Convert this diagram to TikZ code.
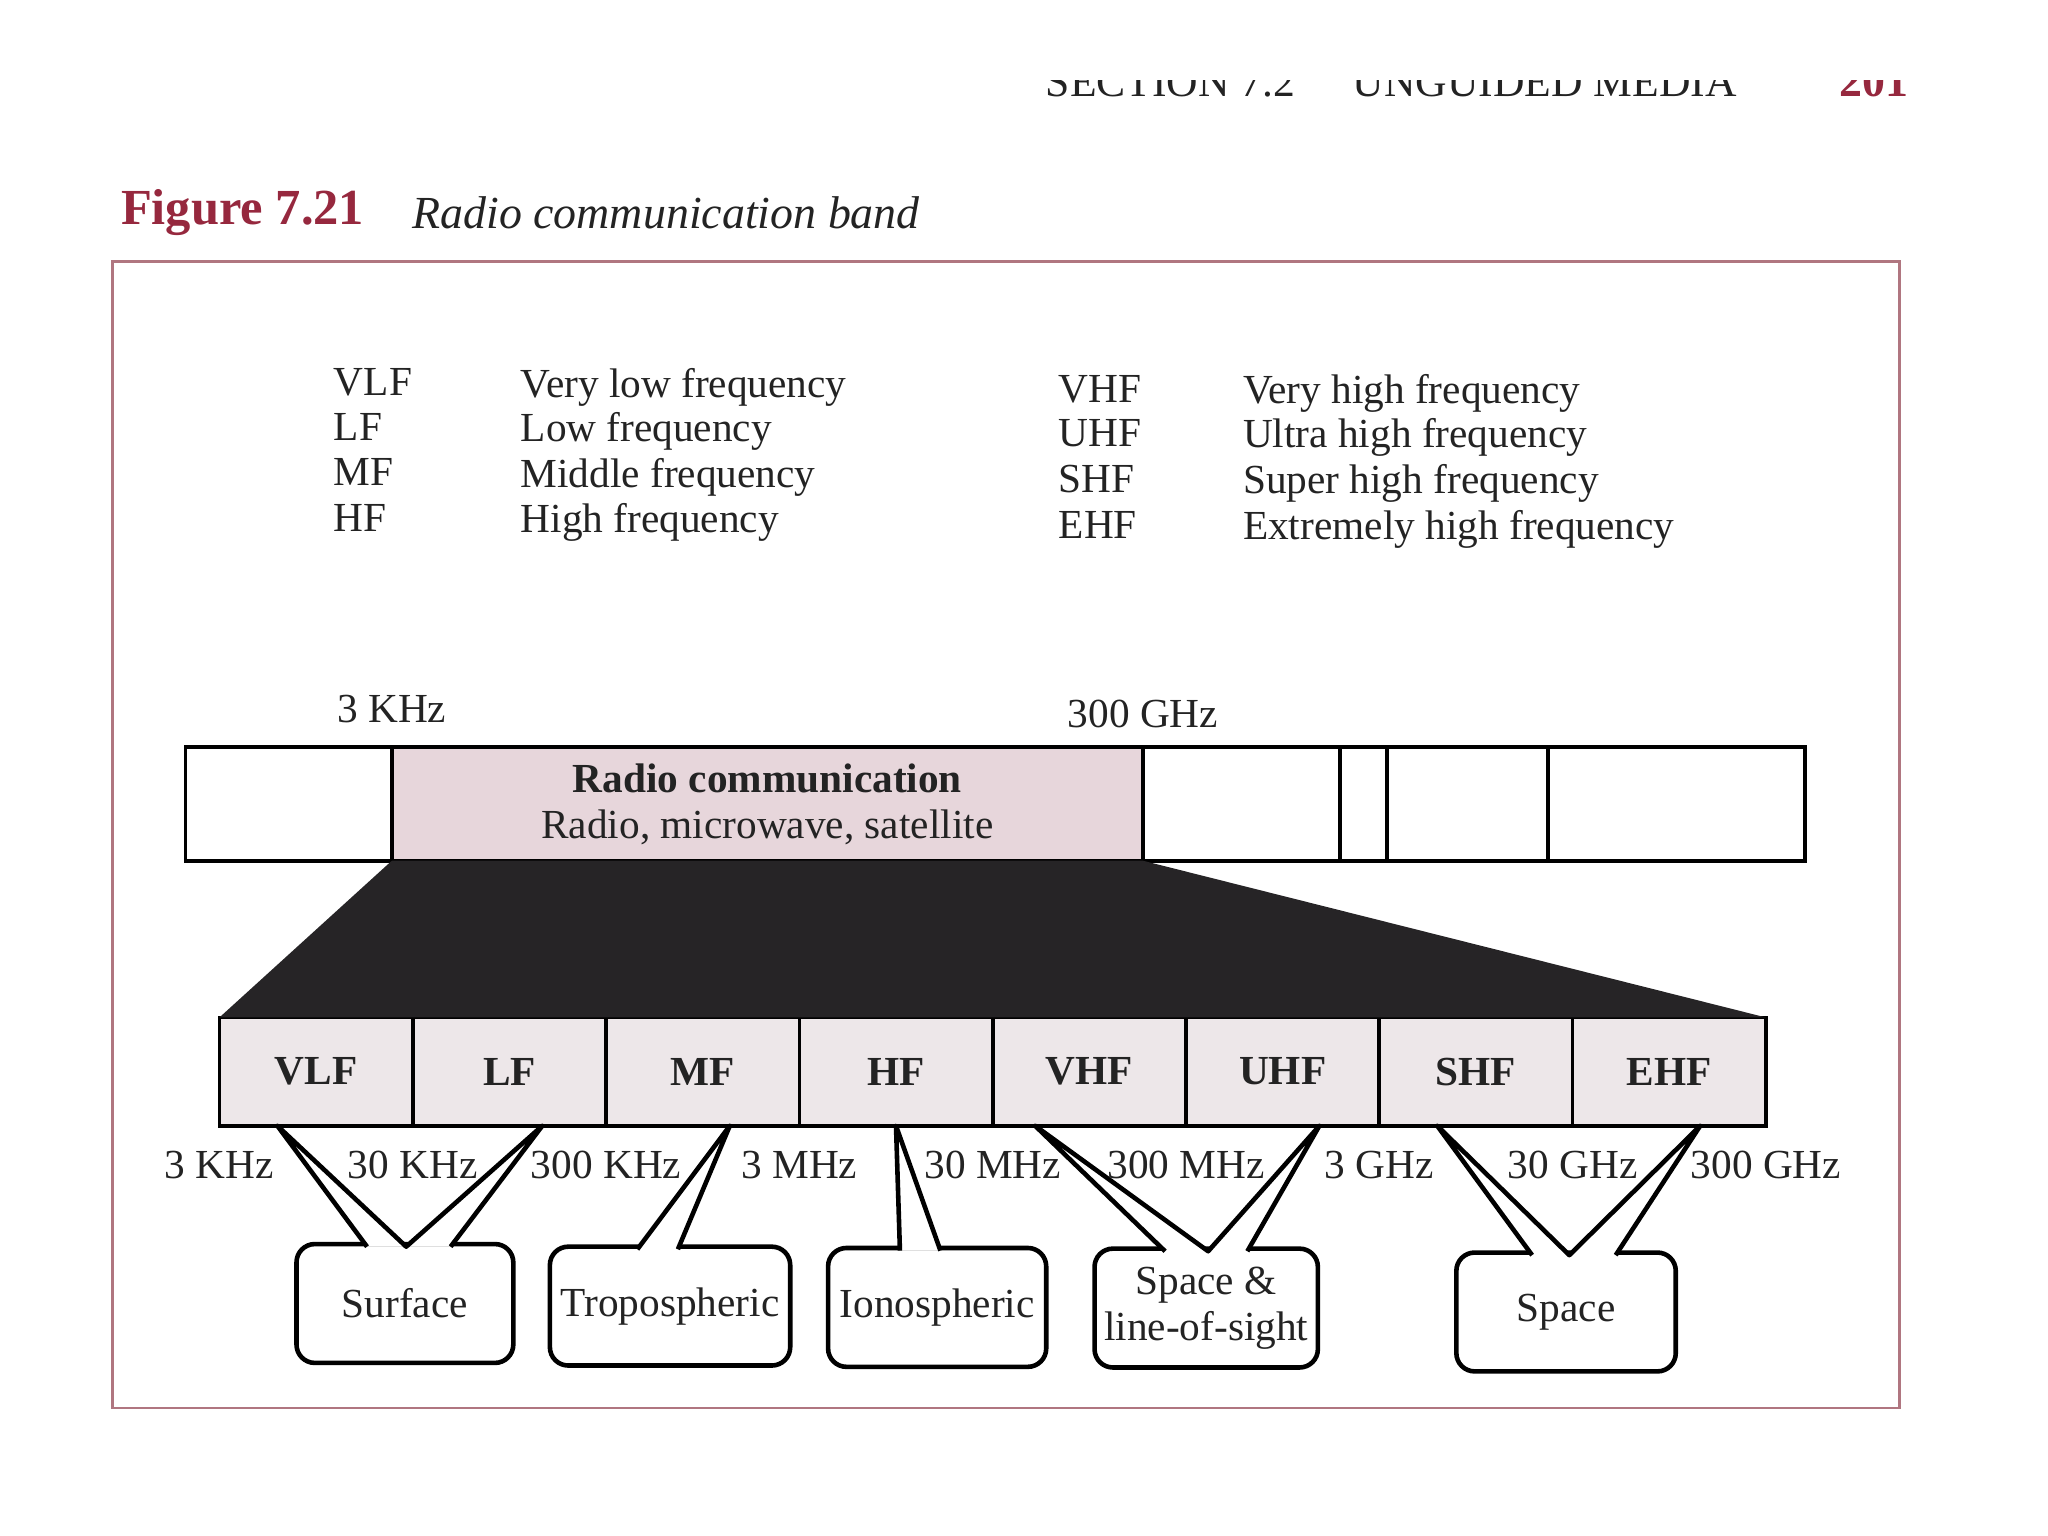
\documentclass[tikz,border=0pt]{standalone}
\usepackage{fontspec}
\setmainfont{Liberation Serif}
\usepackage{tikz}
\usetikzlibrary{positioning, calc}
\definecolor{figred}{RGB}{150,40,62}
\definecolor{framecol}{RGB}{176,118,128}
\definecolor{radiopink}{RGB}{231,214,219}
\definecolor{cellgray}{RGB}{237,231,233}
\definecolor{wedgedark}{RGB}{38,36,38}
\definecolor{inkdark}{RGB}{35,35,35}
\tikzset{
  txt/.style={font=\fontsize{9}{10}\selectfont, inner sep=0pt, color=inkdark},
  legend/.style={txt, anchor=base west},
  freq/.style={txt},
  bandline/.style={draw=black, line width=0.8pt},
  radiocell/.style={rectangle, draw=black, fill=radiopink, line width=0.8pt,
    minimum width=5.75cm, minimum height=0.87cm, outer sep=0pt,
    align=center, text=inkdark, font=\fontsize{9}{10}\selectfont},
  bandcell/.style={rectangle, draw=black, fill=cellgray, line width=0.8pt,
    minimum width=1.48cm, minimum height=0.83cm, outer sep=0pt,
    text=inkdark, font=\fontsize{9}{10}\selectfont\bfseries},
  balloon/.style={rectangle, draw=black, fill=white, line width=1pt,
    rounded corners=4pt, minimum height=0.91cm, outer sep=0pt, inner sep=1pt,
    align=center, text=inkdark, font=\fontsize{9}{10}\selectfont},
  spike/.style={draw=black, fill=white, line width=1pt, line join=round}
}

\begin{document}
\begin{tikzpicture}
  \useasboundingbox (0,0) rectangle (15.68,11.76);
  % running head, cut off at the top of the scan
  \begin{scope}
    \clip (0,0) rectangle (15.68,11.14);
    \node[legend, font=\fontsize{9.5}{10}\selectfont] (runsec) at (8.00,11.02) {SECTION 7.2};
    \node[legend, font=\fontsize{9.5}{10}\selectfont] (runtitle) at (10.35,11.02) {UNGUIDED MEDIA};
    \node[legend, font=\fontsize{10}{10}\selectfont\bfseries, color=figred] (runpage) at (14.08,11.02) {201};
  \end{scope}
  % caption and frame
  \node[anchor=base west, inner sep=0pt, color=figred,
        font=\fontsize{11}{12}\selectfont\bfseries] (fignum) at (0.92,10.04) {Figure 7.21};
  \node[anchor=base west, inner sep=0pt, color=inkdark,
        font=\fontsize{10}{12}\selectfont\itshape] (figcap) at (3.15,10.01) {Radio communication band};
  \draw[framecol, line width=0.6pt] (0.86,0.98) rectangle (14.54,9.76);
  % legend
  \node[legend] (vlfabbr) at (2.55,8.73) {VLF};
  \node[legend] (lfabbr)  at (2.55,8.39) {LF};
  \node[legend] (mfabbr)  at (2.55,8.04) {MF};
  \node[legend] (hfabbr)  at (2.55,7.69) {HF};
  \node[legend] (vlfname) at (3.98,8.72) {Very low frequency};
  \node[legend] (lfname)  at (3.98,8.38) {Low frequency};
  \node[legend] (mfname)  at (3.98,8.03) {Middle frequency};
  \node[legend] (hfname)  at (3.98,7.68) {High frequency};
  \node[legend] (vhfabbr) at (8.10,8.68) {VHF};
  \node[legend] (uhfabbr) at (8.10,8.34) {UHF};
  \node[legend] (shfabbr) at (8.10,7.99) {SHF};
  \node[legend] (ehfabbr) at (8.10,7.64) {EHF};
  \node[legend] (vhfname) at (9.51,8.67) {Very high frequency};
  \node[legend] (uhfname) at (9.51,8.33) {Ultra high frequency};
  \node[legend] (shfname) at (9.51,7.98) {Super high frequency};
  \node[legend] (ehfname) at (9.51,7.63) {Extremely high frequency};
  % whole spectrum
  \draw[bandline] (1.42,5.17) rectangle (13.82,6.04);
  \node[radiocell] (radio) at (5.875,5.605)
       {\textbf{Radio communication}\\Radio, microwave, satellite};
  \draw[bandline] (10.26,5.17) -- (10.26,6.04);
  \draw[bandline] (10.62,5.17) -- (10.62,6.04);
  \draw[bandline] (11.85,5.17) -- (11.85,6.04);
  \node[txt] (lowend)  at ([yshift=0.29cm]radio.north west) {3 KHz};
  \node[txt] (highend) at ([yshift=0.25cm]radio.north east) {300 GHz};
  % radio bands
  \node[bandcell] (vlf) at (2.42,3.555) {VLF};
  \node[bandcell, right=0pt of vlf] (lf)  {LF};
  \node[bandcell, right=0pt of lf]  (mf)  {MF};
  \node[bandcell, right=0pt of mf]  (hf)  {HF};
  \node[bandcell, right=0pt of hf]  (vhf) {VHF};
  \node[bandcell, right=0pt of vhf] (uhf) {UHF};
  \node[bandcell, right=0pt of uhf] (shf) {SHF};
  \node[bandcell, right=0pt of shf] (ehf) {EHF};
  % black zoom wedge
  \fill[wedgedark] (radio.south west) -- (radio.south east)
       -- (ehf.north east) -- (vlf.north west) -- cycle;
  % propagation balloons
  \node[balloon, minimum width=1.66cm] (surface) at (3.10,1.78) {Surface};
  \node[balloon, minimum width=1.84cm] (tropo) at (5.13,1.76) {Tropospheric};
  \node[balloon, minimum width=1.67cm] (iono) at (7.175,1.75) {Ionospheric};
  \node[balloon, minimum width=1.71cm] (los) at (9.235,1.745) {Space \&\\line-of-sight};
  \node[balloon, minimum width=1.68cm] (space) at (11.99,1.715) {Space};
  \draw[spike] ($(surface.north)+(-0.29,-0.02)$) -- ($(vlf.south west)!0.30!(vlf.south east)$)
       -- ($(surface.north)+(0.01,-0.02)$) -- ($(lf.south west)!0.67!(lf.south east)$)
       -- ($(surface.north)+(0.35,-0.02)$);
  \draw[spike] ($(tropo.north)+(-0.25,-0.02)$) -- ($(mf.south west)!0.64!(mf.south east)$)
       -- ($(tropo.north)+(0.06,-0.02)$);
  \draw[spike] ($(iono.north)+(-0.285,-0.02)$) -- ($(hf.south west)!0.50!(hf.south east)$)
       -- ($(iono.north)+(0.025,-0.02)$);
  \draw[spike] ($(los.north)+(-0.315,-0.02)$) -- ($(vhf.south west)!0.22!(vhf.south east)$)
       -- ($(los.north)+(0.015,-0.02)$) -- ($(uhf.south west)!0.69!(uhf.south east)$)
       -- ($(los.north)+(0.315,-0.02)$);
  \draw[spike] ($(space.north)+(-0.26,-0.02)$) -- ($(shf.south west)!0.30!(shf.south east)$)
       -- ($(space.north)+(0.025,-0.02)$) -- ($(ehf.south west)!0.66!(ehf.south east)$)
       -- ($(space.north)+(0.38,-0.02)$);
  % band edges
  \node[freq] (f3k)   at ([yshift=-0.30cm]vlf.south west) {3 KHz};
  \node[freq] (f30k)  at ([yshift=-0.30cm]vlf.south east) {30 KHz};
  \node[freq] (f300k) at ([yshift=-0.30cm]lf.south east)  {300 KHz};
  \node[freq] (f3m)   at ([yshift=-0.30cm]mf.south east)  {3 MHz};
  \node[freq] (f30m)  at ([yshift=-0.30cm]hf.south east)  {30 MHz};
  \node[freq] (f300m) at ([yshift=-0.30cm]vhf.south east) {300 MHz};
  \node[freq] (f3g)   at ([yshift=-0.30cm]uhf.south east) {3 GHz};
  \node[freq] (f30g)  at ([yshift=-0.30cm]shf.south east) {30 GHz};
  \node[freq] (f300g) at ([yshift=-0.30cm]ehf.south east) {300 GHz};
\end{tikzpicture}
\end{document}
